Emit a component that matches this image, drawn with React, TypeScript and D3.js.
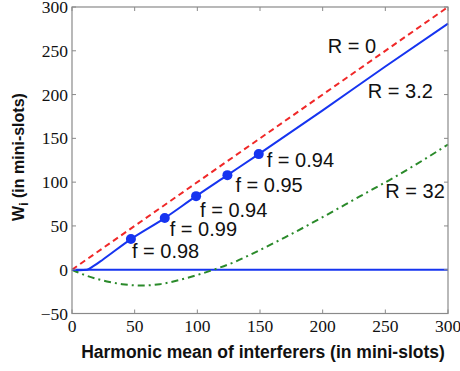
import React from "react";
import * as d3 from "d3";

const xTicks = [0, 50, 100, 150, 200, 250, 300];
const yTicks = [-50, 0, 50, 100, 150, 200, 250, 300];

const r0X = [0, 300];
const r0Y = [0, 300];

const r32X = [0, 6, 12, 17, 25, 47, 74, 99, 124, 149, 200, 250, 300];
const r32Y = [0, -0.5, 0, 4, 12, 35, 59, 84, 108, 132, 182, 232, 281];

const flatX = [0, 300];
const flatY = [0, 0];

const rBigX = [0, 10, 20, 30, 40, 50, 57, 70, 85, 100, 113, 130, 142, 170, 200, 230, 254, 280, 300];
const rBigY = [0, -6, -10.5, -14, -16.5, -17.8, -18, -16.5, -12, -6, 0, 9, 17, 37, 60, 84, 103, 125, 143];

const markX = [47, 74, 99, 124, 149];
const markY = [35, 59, 84, 108, 132];
const markLabels = ["f = 0.98", "f = 0.99", "f = 0.94", "f = 0.95", "f = 0.94"];

const curveLabels = ["R = 0", "R = 3.2", "R = 32"];
const curveLabelX = [204, 236, 250];
const curveLabelY = [248, 196, 82];

export default function App() {
  const W = 460, H = 371;
  const x = d3.scaleLinear().domain([0, 300]).range([72, 448]);
  const y = d3.scaleLinear().domain([-50, 300]).range([313.5, 7]);
  const line = (xs: number[], ys: number[]) =>
    d3.line<number>().x((_, i) => x(xs[i])).y((_, i) => y(ys[i])).curve(d3.curveMonotoneX)(xs) || "";
  const axisCol = "#8a8a8a";
  const sans = "'Liberation Sans', Arial, sans-serif";
  const serif = "'Liberation Serif', 'Times New Roman', serif";
  const blue = "#1634f0";
  const labelDx = [1, 5, 4, 8, 8];
  const labelDy = [19, 18, 21, 17, 13];
  return (
    <svg width={W} height={H} style={{ position: "absolute", left: 0, top: 0, background: "#fff" }}>
      <rect x={0} y={0} width={W} height={H} fill="#fff" />
      <path d={line(flatX, flatY)} fill="none" stroke={blue} strokeWidth={2} />
      <path d={line(rBigX, rBigY)} fill="none" stroke="#2a8a2a" strokeWidth={2} strokeDasharray="7,4,2,4" />
      <path d={line(r0X, r0Y)} fill="none" stroke="#f02828" strokeWidth={2} strokeDasharray="6,4" />
      <path d={line(r32X, r32Y)} fill="none" stroke={blue} strokeWidth={2} />
      {markX.map((v, i) => (
        <circle key={"m" + i} cx={x(v)} cy={y(markY[i])} r={5} fill={blue} />
      ))}
      {markX.map((v, i) => (
        <text key={"ml" + i} x={x(v) + labelDx[i]} y={y(markY[i]) + labelDy[i]} fontFamily={sans} fontSize={20} fill="#111">
          {markLabels[i]}
        </text>
      ))}
      {curveLabels.map((t, i) => (
        <text key={"cl" + i} x={x(curveLabelX[i])} y={y(curveLabelY[i])} fontFamily={sans} fontSize={20} fill="#111">
          {t}
        </text>
      ))}
      <rect x={72} y={7} width={376} height={306.5} fill="none" stroke={axisCol} strokeWidth={1.2} />
      {xTicks.map((t) => (
        <g key={"xt" + t}>
          <line x1={x(t)} x2={x(t)} y1={313.5} y2={309.5} stroke={axisCol} />
          <line x1={x(t)} x2={x(t)} y1={7} y2={11} stroke={axisCol} />
          <text x={x(t)} y={332} textAnchor="middle" fontFamily={serif} fontSize={17.5} fill="#111">
            {t}
          </text>
        </g>
      ))}
      {yTicks.map((t) => (
        <g key={"yt" + t}>
          <line x1={72} x2={76} y1={y(t)} y2={y(t)} stroke={axisCol} />
          <line x1={448} x2={444} y1={y(t)} y2={y(t)} stroke={axisCol} />
          <text x={68} y={y(t) + 6} textAnchor="end" fontFamily={serif} fontSize={17.5} fill="#111">
            {t < 0 ? "\u2212" + Math.abs(t) : t}
          </text>
        </g>
      ))}
      <text x={263} y={358} textAnchor="middle" fontFamily={sans} fontSize={17.5} fontWeight="bold" fill="#111">
        Harmonic mean of interferers (in mini-slots)
      </text>
      <text transform="translate(24,157) rotate(-90)" textAnchor="middle" fontFamily={sans} fontSize={16} fontWeight="bold" fill="#111">
        W<tspan fontSize={12} dy={4}>i</tspan>
        <tspan dy={-4}> (in mini-slots)</tspan>
      </text>
    </svg>
  );
}
